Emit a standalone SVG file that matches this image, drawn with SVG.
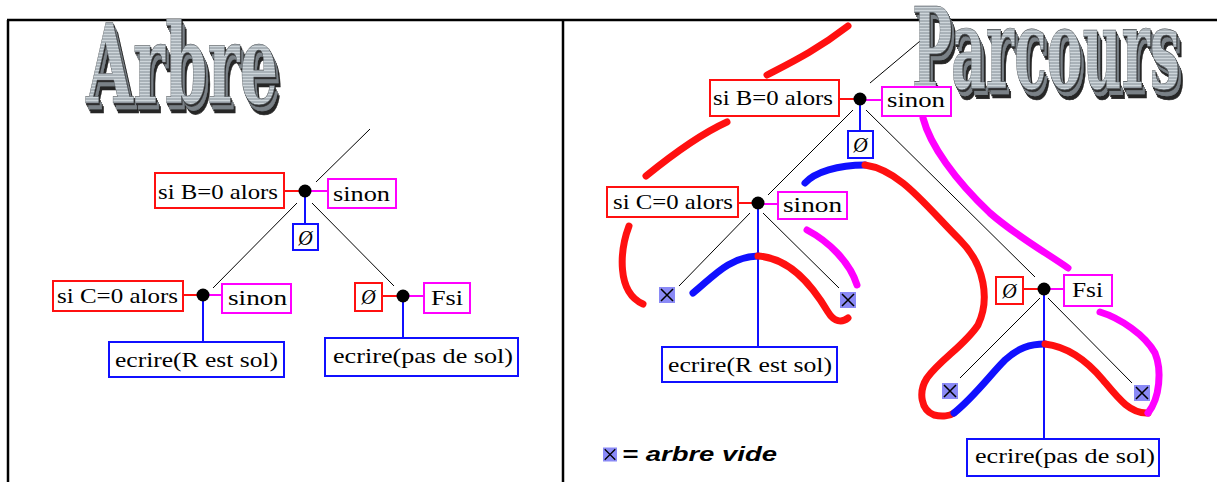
<svg xmlns="http://www.w3.org/2000/svg" width="1217" height="482" viewBox="0 0 1217 482">
<style>
.box{fill:#fff;stroke-width:2}
.r{stroke:#ff1010}
.m{stroke:#ff00ff}
.b{stroke:#1010ff}
.lbl{font-family:"Liberation Serif",serif;font-size:21px;fill:#000}
.phi{font-family:"Liberation Serif",serif;font-size:20px;font-style:italic;fill:#000;text-anchor:middle}
.diag{stroke:#000;stroke-width:1;fill:none}
.cl{stroke-width:2;fill:none}
.frame{stroke:#000;stroke-width:2.5;fill:none}
.trail{fill:none;stroke-width:7;stroke-linecap:round;stroke-linejoin:round}
.ttl{font-family:"DejaVu Serif",serif;font-weight:bold;fill:url(#stripes);stroke:#4a4f53;stroke-width:0.6;filter:url(#extrude)}
</style>
<defs>
<linearGradient id="metal" x1="0" y1="0" x2="0" y2="1">
<stop offset="0" stop-color="#eef3f6"/>
<stop offset="0.25" stop-color="#a8b2ba"/>
<stop offset="0.45" stop-color="#dfe6ea"/>
<stop offset="0.7" stop-color="#8c969e"/>
<stop offset="1" stop-color="#cfd6db"/>
</linearGradient>
<pattern id="stripes" width="4" height="3" patternUnits="userSpaceOnUse">
<rect width="4" height="3" fill="url(#metal)"/>
<rect width="4" height="1" fill="#7d868d" opacity="0.35"/>
</pattern>
<filter id="extrude" x="-5%" y="-10%" width="115%" height="135%">
<feOffset in="SourceAlpha" dx="1" dy="2" result="o1"/>
<feOffset in="SourceAlpha" dx="2" dy="4" result="o2"/>
<feOffset in="SourceAlpha" dx="3" dy="6" result="o3"/>
<feOffset in="SourceAlpha" dx="4" dy="8" result="o4"/>
<feOffset in="SourceAlpha" dx="5" dy="10" result="o5"/>
<feMerge result="ext"><feMergeNode in="o1"/><feMergeNode in="o2"/><feMergeNode in="o3"/><feMergeNode in="o4"/><feMergeNode in="o5"/></feMerge>
<feFlood flood-color="#262626"/>
<feComposite operator="in" in2="ext" result="dark"/>
<feFlood flood-color="#7a8187"/>
<feComposite operator="in" in2="o3" result="mid"/>
<feFlood flood-color="#2e2e2e"/>
<feComposite operator="in" in2="o1" result="near"/>
<feMerge><feMergeNode in="dark"/><feMergeNode in="mid"/><feMergeNode in="near"/><feMergeNode in="SourceGraphic"/></feMerge>
</filter>
<symbol id="xm" viewBox="0 0 16 16">
<rect width="16" height="16" fill="#8a8af6"/>
<path d="M2,2 L14,14 M14,2 L2,14" stroke="#000" stroke-width="1.5"/>
</symbol>
</defs>
<rect width="1217" height="482" fill="#fff"/>
<g id="frame">
<line class="frame" x1="7" y1="20" x2="1217" y2="20"/>
<line class="frame" x1="8" y1="20" x2="8" y2="482"/>
<line class="frame" x1="563" y1="20" x2="563" y2="482"/>
</g>
<g id="connectors">
<line class="diag" x1="370" y1="129" x2="316" y2="182"/>
<line class="diag" x1="297" y1="203" x2="213" y2="288"/>
<line class="diag" x1="312" y1="203" x2="394" y2="286"/>
<line class="cl r" x1="284" y1="191" x2="305" y2="191"/>
<line class="cl m" x1="305" y1="191" x2="328" y2="191"/>
<line class="cl b" x1="305" y1="191" x2="305" y2="224"/>
<line class="cl r" x1="183" y1="295" x2="203" y2="295"/>
<line class="cl m" x1="203" y1="295" x2="222" y2="295"/>
<line class="cl b" x1="203" y1="295" x2="203" y2="342"/>
<line class="cl r" x1="382" y1="296" x2="403" y2="296"/>
<line class="cl m" x1="403" y1="296" x2="424" y2="296"/>
<line class="cl b" x1="403" y1="296" x2="403" y2="338"/>
<line class="diag" x1="870" y1="83" x2="932" y2="31"/>
<line class="diag" x1="853" y1="110" x2="768" y2="195"/>
<line class="diag" x1="866" y1="110" x2="1035" y2="277"/>
<line class="diag" x1="750" y1="213" x2="679" y2="286"/>
<line class="diag" x1="763" y1="213" x2="839" y2="288"/>
<line class="diag" x1="1040" y1="298" x2="960" y2="378"/>
<line class="diag" x1="1048" y1="298" x2="1132" y2="383"/>
<line class="cl r" x1="839" y1="99" x2="860" y2="99"/>
<line class="cl m" x1="860" y1="100" x2="882" y2="100"/>
<line class="cl b" x1="860" y1="99" x2="860" y2="131"/>
<line class="cl r" x1="738" y1="203" x2="758" y2="203"/>
<line class="cl m" x1="758" y1="204" x2="778" y2="204"/>
<line class="cl b" x1="758" y1="203" x2="758" y2="347"/>
<line class="cl r" x1="1023" y1="289" x2="1044" y2="289"/>
<line class="cl m" x1="1044" y1="289" x2="1064" y2="289"/>
<line class="cl b" x1="1044" y1="289" x2="1044" y2="439"/>
</g>
<g id="title-arbre">
<text class="ttl" x="86" y="103" font-size="110" textLength="192" lengthAdjust="spacingAndGlyphs">Arbre</text>
</g>
<g id="left-tree">
<g id="l-siB"><rect class="box r" x="155" y="173" width="129" height="35"/><text class="lbl" x="158" y="199" textLength="120" lengthAdjust="spacingAndGlyphs">si B=0 alors</text></g>
<g id="l-dot1"><circle cx="305" cy="191" r="6.5"/></g>
<g id="l-sinon1"><rect class="box m" x="328" y="179" width="68" height="29"/><text class="lbl" x="333" y="201" textLength="57" lengthAdjust="spacingAndGlyphs">sinon</text></g>
<g id="l-vide1"><rect class="box b" x="293" y="224" width="25" height="26"/><text class="phi" x="305.5" y="245">Ø</text></g>
<g id="l-siC"><rect class="box r" x="53" y="281" width="130" height="30"/><text class="lbl" x="57" y="303" textLength="121" lengthAdjust="spacingAndGlyphs">si C=0 alors</text></g>
<g id="l-dot2"><circle cx="203" cy="295" r="6.5"/></g>
<g id="l-sinon2"><rect class="box m" x="222" y="284" width="69" height="29"/><text class="lbl" x="228" y="305" textLength="59" lengthAdjust="spacingAndGlyphs">sinon</text></g>
<g id="l-ecrire1"><rect class="box b" x="109" y="342" width="175" height="35"/><text class="lbl" x="115" y="367" textLength="163" lengthAdjust="spacingAndGlyphs">ecrire(R est sol)</text></g>
<g id="l-vide2"><rect class="box r" x="355" y="283" width="27" height="28"/><text class="phi" x="368.5" y="304">Ø</text></g>
<g id="l-dot3"><circle cx="403" cy="296" r="6.5"/></g>
<g id="l-fsi"><rect class="box m" x="424" y="283" width="46" height="30"/><text class="lbl" x="431" y="305" textLength="32" lengthAdjust="spacingAndGlyphs">Fsi</text></g>
<g id="l-ecrire2"><rect class="box b" x="325" y="338" width="193" height="38"/><text class="lbl" x="333" y="363" textLength="180" lengthAdjust="spacingAndGlyphs">ecrire(pas de sol)</text></g>
</g>
<g id="traversal">
<path class="trail r" d="M767,75 C790,63 817,50 848,26"/>
<path class="trail r" d="M727,122 C705,132 678,150 646,176"/>
<path class="trail r" d="M629,226 C620,250 616,292 643,304"/>
<path class="trail b" d="M693,293 C712,278 728,257 758,256"/>
<path class="trail r" d="M758,256 C790,258 812,285 828,312 C834,322 842,323 848,318"/>
<path class="trail m" d="M807,230 C828,241 850,262 857,285"/>
<path class="trail b" d="M805,183 C815,172 838,165 865,165"/>
<path class="trail r" d="M865,165 C900,170 925,205 960,240 C985,265 990,300 978,325 C965,345 940,360 927,378 C918,392 921,410 934,415 C942,417 950,416 954,413"/>
<path class="trail b" d="M954,413 C975,396 990,375 1005,360 C1018,348 1030,344 1045,344"/>
<path class="trail r" d="M1045,344 C1070,347 1088,362 1103,380 C1118,398 1130,414 1148,413"/>
<path class="trail m" d="M1148,413 C1160,398 1162,370 1155,353 C1145,335 1120,318 1100,312"/>
<path class="trail m" d="M923,118 C930,145 955,180 990,213 C1015,235 1045,252 1068,268"/>
</g>
<g id="title-parcours">
<text class="ttl" x="912" y="88" font-size="112" textLength="268" lengthAdjust="spacingAndGlyphs">Parcours</text>
</g>
<g id="right-tree">
<g id="r-siB"><rect class="box r" x="710" y="80" width="129" height="36"/><text class="lbl" x="713" y="105" textLength="120" lengthAdjust="spacingAndGlyphs">si B=0 alors</text></g>
<g id="r-dot1"><circle cx="860" cy="99" r="6.5"/></g>
<g id="r-sinon1"><rect class="box m" x="882" y="87" width="69" height="29"/><text class="lbl" x="887" y="107" textLength="58" lengthAdjust="spacingAndGlyphs">sinon</text></g>
<g id="r-vide1"><rect class="box b" x="848" y="131" width="25" height="27"/><text class="phi" x="860.5" y="152">Ø</text></g>
<g id="r-siC"><rect class="box r" x="607" y="187" width="131" height="30"/><text class="lbl" x="613" y="209" textLength="120" lengthAdjust="spacingAndGlyphs">si C=0 alors</text></g>
<g id="r-dot2"><circle cx="758" cy="203" r="6.5"/></g>
<g id="r-sinon2"><rect class="box m" x="778" y="192" width="69" height="27"/><text class="lbl" x="783" y="212" textLength="59" lengthAdjust="spacingAndGlyphs">sinon</text></g>
<g id="r-ecrire1"><rect class="box b" x="662" y="347" width="175" height="35"/><text class="lbl" x="668" y="372" textLength="164" lengthAdjust="spacingAndGlyphs">ecrire(R est sol)</text></g>
<g id="r-vide2"><rect class="box r" x="996" y="277" width="27" height="27"/><text class="phi" x="1009.5" y="298">Ø</text></g>
<g id="r-dot3"><circle cx="1044" cy="289" r="6.5"/></g>
<g id="r-fsi"><rect class="box m" x="1064" y="275" width="48" height="31"/><text class="lbl" x="1072" y="297" textLength="31" lengthAdjust="spacingAndGlyphs">Fsi</text></g>
<g id="r-ecrire2"><rect class="box b" x="967" y="439" width="192" height="37"/><text class="lbl" x="975" y="463" textLength="180" lengthAdjust="spacingAndGlyphs">ecrire(pas de sol)</text></g>
<g id="r-x1"><use href="#xm" x="659" y="287" width="16" height="16"/></g>
<g id="r-x2"><use href="#xm" x="840" y="292" width="16" height="16"/></g>
<g id="r-x3"><use href="#xm" x="942" y="383" width="16" height="16"/></g>
<g id="r-x4"><use href="#xm" x="1134" y="385" width="16" height="16"/></g>
</g>
<g id="legend">
<use href="#xm" x="603" y="447" width="14" height="15"/>
<text x="622" y="461" font-family="Liberation Sans, sans-serif" font-weight="bold" font-style="italic" font-size="20" textLength="155" lengthAdjust="spacingAndGlyphs">= arbre vide</text>
</g>
</svg>
